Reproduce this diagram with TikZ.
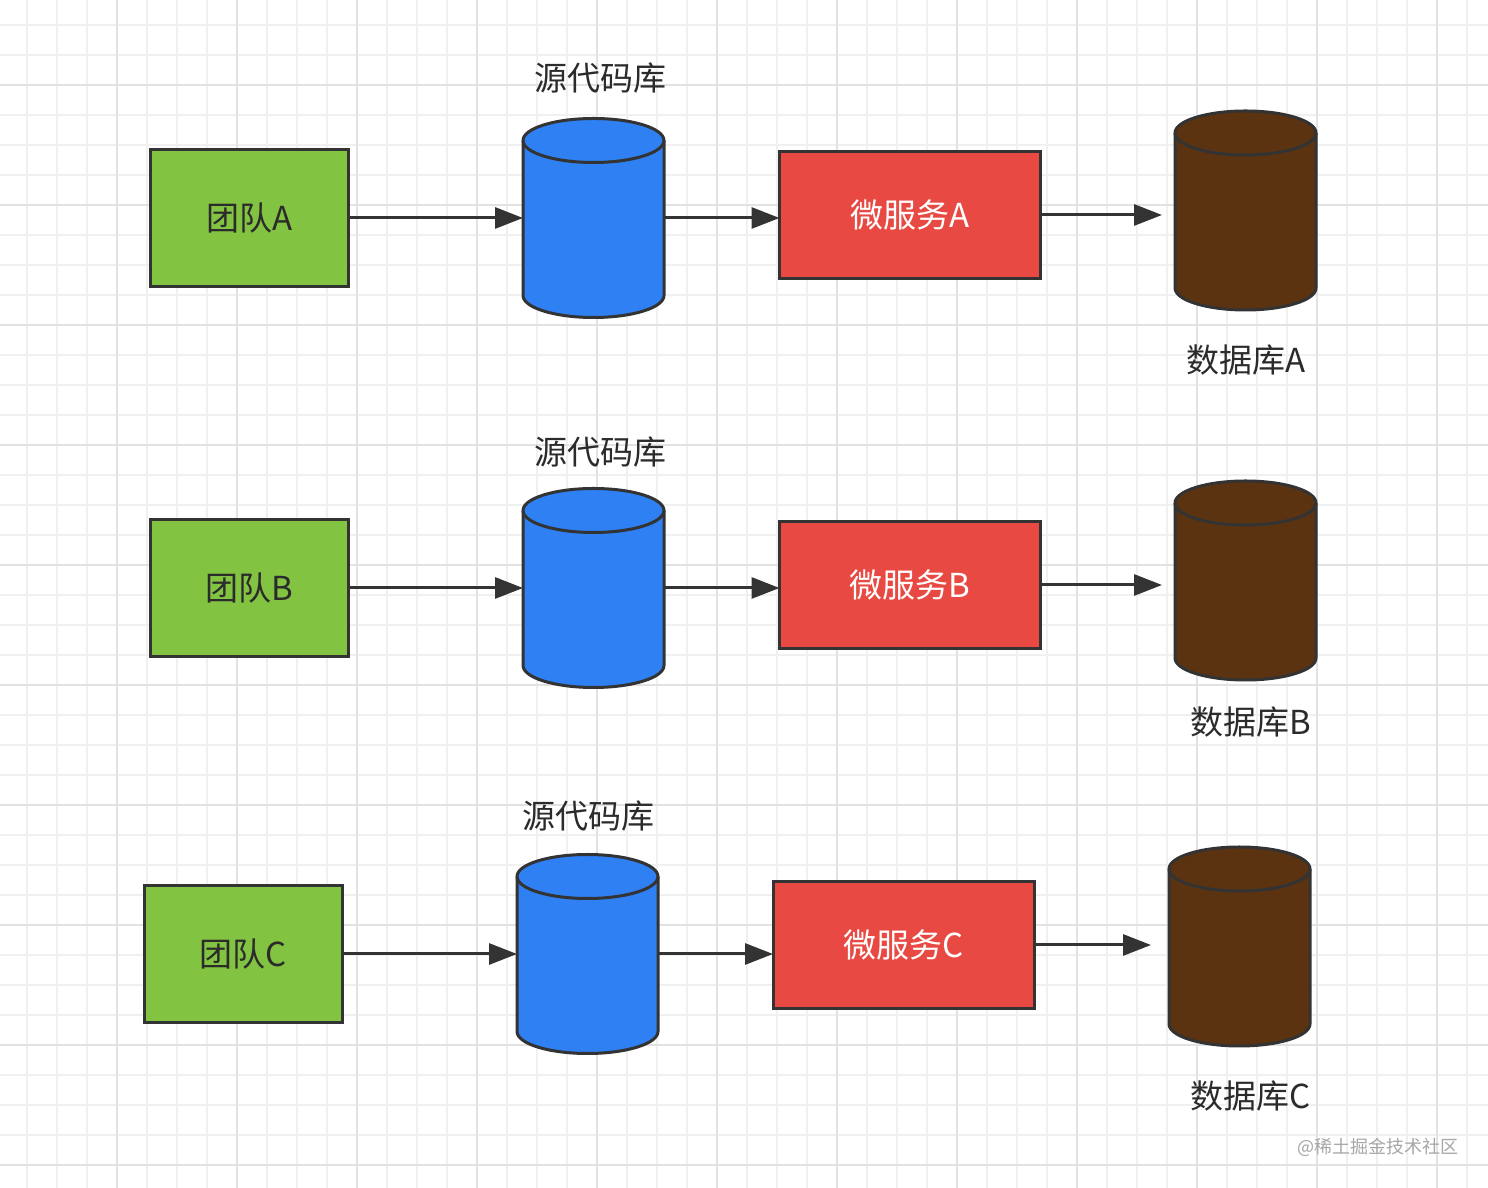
\documentclass[tikz,border=0pt]{standalone}
\usepackage{fontspec}
\newfontfamily\cjk{Noto Sans CJK SC}
\usetikzlibrary{arrows.meta,calc}
\definecolor{edge}{HTML}{333333}
\definecolor{teamgreen}{HTML}{82C341}
\definecolor{svcred}{HTML}{E84A43}
\definecolor{repoblue}{HTML}{2F80F2}
\definecolor{dbbrown}{HTML}{5C3311}
\definecolor{gridminor}{HTML}{F0F0F0}
\definecolor{gridmajor}{HTML}{E2E2E2}
\definecolor{txt}{HTML}{2B2B2B}
\newcommand\drawcyl[2]{%
  \path[draw=edge,fill=#2,line width=3pt,line join=round]
    ($(#1.north west)+(0,-22)$) -- ($(#1.south west)+(0,22)$)
    arc[start angle=180,end angle=360,x radius=70.5pt,y radius=22pt]
    -- ($(#1.north east)+(0,-22)$)
    arc[start angle=0,end angle=180,x radius=70.5pt,y radius=22pt] -- cycle;
  \draw[edge,line width=3pt] ($(#1.north west)+(0,-22)$)
    arc[start angle=180,end angle=360,x radius=70.5pt,y radius=22pt];
}
\begin{document}
\begin{tikzpicture}[x=1pt,y=1pt,
  team/.style={draw=edge,fill=teamgreen,line width=3pt,minimum width=198pt,minimum height=137pt,inner sep=0,outer sep=0,font=\cjk\fontsize{33}{38}\selectfont,text=txt},
  svc/.style={draw=edge,fill=svcred,line width=3pt,minimum width=261pt,minimum height=127pt,inner sep=0,outer sep=0,font=\cjk\fontsize{33}{38}\selectfont,text=white},
  cylbox/.style={minimum width=141pt,minimum height=199pt,inner sep=0,outer sep=0},
  lbl/.style={font=\cjk\fontsize{33}{38}\selectfont,text=txt,inner sep=0},
  conn/.style={draw=edge,line width=3pt,-{Triangle[length=28pt,width=21pt]}},
  minor/.style={gridminor,line width=1.5pt},
  major/.style={gridmajor,line width=2pt}]
\useasboundingbox (0,0) rectangle (1488,1188);
\fill[white] (0,0) rectangle (1488,1188);
% grid
\foreach \x in {27,57,...,1467} \draw[minor] (\x,0) -- (\x,1188);
\foreach \y in {25,55,...,1165} \draw[minor] (0,{1188-\y}) -- (1488,{1188-\y});
\foreach \x in {117,237,...,1437} \draw[major] (\x,0) -- (\x,1188);
\foreach \y in {85,205,...,1165} \draw[major] (0,{1188-\y}) -- (1488,{1188-\y});

% Row A
\node[team] (gA) at (249.5,970) {团队A};
\node[cylbox] (bA) at (593.5,970) {};
\drawcyl{bA}{repoblue}
\node[svc] (rA) at (910,973) {微服务A};
\node[cylbox] (dA) at (1245.5,977.5) {};
\drawcyl{dA}{dbbrown}
\node[lbl] (lrA) at (600,1110) {源代码库};
\node[lbl] (ldA) at (1246,828) {数据库A};
\draw[conn] (gA.east) -- (gA.east -| bA.west);
\draw[conn] (bA.east) -- (bA.east -| rA.west);
\draw[conn,shorten >=13pt] (rA.east) -- (rA.east -| dA.west);

% Row B
\node[team] (gB) at (249.5,600) {团队B};
\node[cylbox] (bB) at (593.5,600) {};
\drawcyl{bB}{repoblue}
\node[svc] (rB) at (910,603) {微服务B};
\node[cylbox] (dB) at (1245.5,607.5) {};
\drawcyl{dB}{dbbrown}
\node[lbl] (lrB) at (600,736) {源代码库};
\node[lbl] (ldB) at (1251,466) {数据库B};
\draw[conn] (gB.east) -- (gB.east -| bB.west);
\draw[conn] (bB.east) -- (bB.east -| rB.west);
\draw[conn,shorten >=13pt] (rB.east) -- (rB.east -| dB.west);

% Row C
\node[team] (gC) at (243.5,234) {团队C};
\node[cylbox] (bC) at (587.5,234) {};
\drawcyl{bC}{repoblue}
\node[svc] (rC) at (903.5,243) {微服务C};
\node[cylbox] (dC) at (1239.5,241.5) {};
\drawcyl{dC}{dbbrown}
\node[lbl] (lrC) at (588,372) {源代码库};
\node[lbl] (ldC) at (1251,92) {数据库C};
\draw[conn] (gC.east) -- (gC.east -| bC.west);
\draw[conn] (bC.east) -- (bC.east -| rC.west);
\draw[conn,shorten >=18pt] (rC.east) -- (rC.east -| dC.west);

% watermark
\node[font=\cjk\fontsize{18}{20}\selectfont,text=black!35,inner sep=0] (wm) at (1378,41) {@稀土掘金技术社区};
\end{tikzpicture}
\end{document}
